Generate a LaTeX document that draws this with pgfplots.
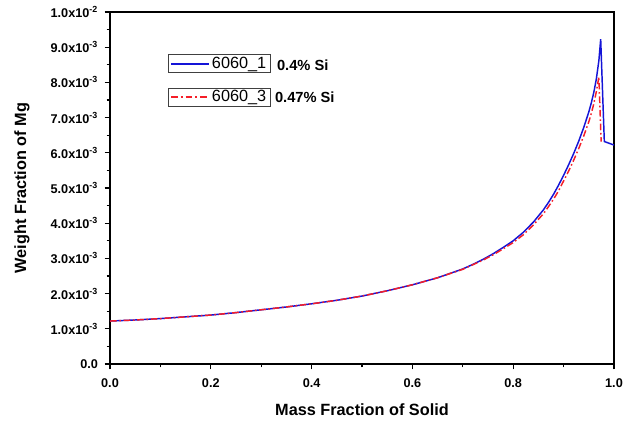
\documentclass[border=0pt]{standalone}
\usepackage{pgfplots}
\pgfplotsset{compat=1.18}
\usepackage{fontspec}
\setmainfont{Liberation Sans}
\definecolor{cblue}{RGB}{20,20,215}
\definecolor{cred}{RGB}{245,30,40}
\begin{document}
\begin{tikzpicture}
\useasboundingbox (-82.5pt,-44.25pt) rectangle (389.25pt,273pt);
\begin{axis}[
  scale only axis, width=378pt, height=264pt,
  xmin=0, xmax=1, ymin=0, ymax=0.01,
  axis line style={line width=1pt},
  tick style={line width=0.9pt, black},
  tick align=outside, xtick pos=left, ytick pos=left,
  major tick length=4pt, minor tick length=2.5pt,
  xtick={0,0.2,0.4,0.6,0.8,1.0},
  xticklabels={0.0,0.2,0.4,0.6,0.8,1.0},
  minor x tick num=1,
  ytick={0,0.001,0.002,0.003,0.004,0.005,0.006,0.007,0.008,0.009,0.01},
  yticklabels={0.0,1.0x10\textsuperscript{-3},2.0x10\textsuperscript{-3},3.0x10\textsuperscript{-3},4.0x10\textsuperscript{-3},5.0x10\textsuperscript{-3},6.0x10\textsuperscript{-3},7.0x10\textsuperscript{-3},8.0x10\textsuperscript{-3},9.0x10\textsuperscript{-3},1.0x10\textsuperscript{-2}},
  minor y tick num=1,
  scaled y ticks=false,
  /pgf/number format/assume math mode=true,
  tick label style={font=\fontsize{9.5}{10}\selectfont\bfseries},
  xticklabel style={yshift=-3.5pt},
  yticklabel style={xshift=-1.5pt},
  xlabel={Mass Fraction of Solid},
  ylabel={Weight Fraction of Mg},
  every axis x label/.style={at={(axis description cs:0.5,-0.1307)}, anchor=center, font=\fontsize{12.2}{14}\selectfont\bfseries},
  every axis y label/.style={at={(axis description cs:-0.1746,0.5)}, rotate=90, anchor=center, font=\fontsize{12.2}{14}\selectfont\bfseries},
  legend style={draw=none, fill=none, at={(axis cs:0.119,0.00878)}, anchor=north west,
    font=\fontsize{12.2}{14}\selectfont, row sep=12pt, inner sep=0pt,
    nodes={inner sep=1.5pt}},
  legend cell align=left,
]
\addplot[cblue, line width=1.1pt,
  legend image code/.code={
    \draw[overlay, solid, black!75, line width=0.6pt] (-2.25pt,-6.75pt) rectangle (74.6pt,6.75pt);
    \draw[cblue, solid, line width=1.1pt] (0pt,0pt) -- (28.5pt,0pt);
  }] coordinates {
(0,1.22e-3) (0.05,1.25e-3) (0.1,1.29e-3) (0.15,1.34e-3) (0.2,1.39e-3)
(0.25,1.46e-3) (0.3,1.54e-3) (0.35,1.62e-3) (0.4,1.71e-3) (0.45,1.81e-3)
(0.5,1.93e-3) (0.55,2.08e-3) (0.6,2.25e-3) (0.65,2.45e-3) (0.7,2.70e-3)
(0.72,2.83e-3) (0.74,2.97e-3) (0.76,3.13e-3) (0.78,3.31e-3) (0.80,3.50e-3)
(0.82,3.74e-3) (0.84,4.03e-3) (0.86,4.38e-3) (0.87,4.59e-3) (0.88,4.82e-3)
(0.89,5.08e-3) (0.90,5.36e-3) (0.91,5.66e-3) (0.92,5.98e-3) (0.93,6.33e-3)
(0.94,6.72e-3) (0.95,7.16e-3) (0.955,7.42e-3) (0.96,7.72e-3) (0.965,8.10e-3)
(0.97,8.62e-3) (0.9736,9.23e-3) (0.9808,6.32e-3) (1.0,6.22e-3)
};
\addlegendentry{6060\_1}
\addplot[cred, line width=1.1pt, dash pattern=on 5pt off 2pt on 1.2pt off 2pt,
  legend image code/.code={
    \draw[overlay, solid, black!75, line width=0.6pt] (-2.25pt,-6.75pt) rectangle (74.6pt,6.75pt);
    \draw[cred, line width=1.3pt, dash pattern=on 5pt off 2.2pt on 1.5pt off 2.2pt] (0pt,0pt) -- (28.5pt,0pt);
  }] coordinates {
(0,1.22e-3) (0.05,1.25e-3) (0.1,1.29e-3) (0.15,1.34e-3) (0.2,1.39e-3)
(0.25,1.46e-3) (0.3,1.54e-3) (0.35,1.62e-3) (0.4,1.71e-3) (0.45,1.81e-3)
(0.5,1.93e-3) (0.55,2.08e-3) (0.6,2.25e-3) (0.65,2.45e-3) (0.7,2.69e-3)
(0.72,2.82e-3) (0.74,2.95e-3) (0.76,3.10e-3) (0.78,3.27e-3) (0.80,3.45e-3)
(0.82,3.67e-3) (0.84,3.95e-3) (0.86,4.27e-3) (0.87,4.47e-3) (0.88,4.68e-3)
(0.89,4.92e-3) (0.90,5.20e-3) (0.91,5.48e-3) (0.92,5.79e-3) (0.93,6.12e-3)
(0.94,6.48e-3) (0.95,6.88e-3) (0.955,7.12e-3) (0.96,7.40e-3) (0.965,7.74e-3)
(0.970,8.16e-3) (0.9745,6.32e-3)
};
\addlegendentry{6060\_3}
\node[anchor=west, font=\fontsize{11}{12}\selectfont\bfseries, inner sep=0pt] at (axis cs:0.331,0.00850) {0.4\% Si};
\node[anchor=west, font=\fontsize{11}{12}\selectfont\bfseries, inner sep=0pt] at (axis cs:0.327,0.00757) {0.47\% Si};
\end{axis}
\end{tikzpicture}
\end{document}
